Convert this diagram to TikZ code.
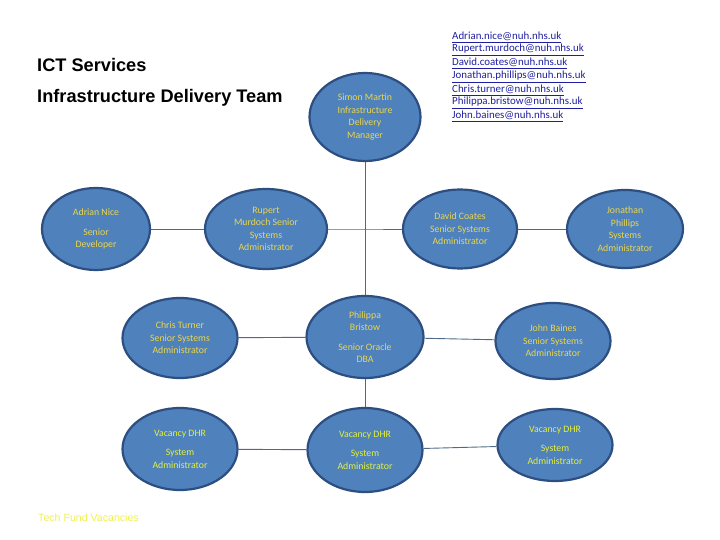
\documentclass[tikz,border=0pt]{standalone}
\usepackage{fontspec}
\setmainfont{Carlito}
\newfontfamily\arialf{Liberation Sans}
\usetikzlibrary{shapes.geometric}
\definecolor{fillblue}{RGB}{79,129,189}
\definecolor{edgeblue}{RGB}{44,78,128}
\definecolor{nametext}{RGB}{236,214,72}
\definecolor{vactext}{RGB}{228,240,60}
\definecolor{linkcol}{RGB}{30,30,160}
\definecolor{conncol}{RGB}{80,105,135}
\definecolor{techyellow}{RGB}{240,240,80}
\tikzset{
  person/.style={ellipse, draw=edgeblue, line width=2.2pt, fill=fillblue, inner sep=0pt,
    align=center, text=nametext, font=\fontsize{9.8}{12.5}\selectfont},
  vacancy/.style={person, text=vactext},
  conn/.style={draw=conncol, line width=0.9pt},
  title/.style={anchor=west, font=\arialf\bfseries\fontsize{18.2}{21}\selectfont, inner sep=0pt},
  email/.style={anchor=west, inner sep=0pt, text=linkcol, font=\fontsize{10.9}{12}\selectfont}
}
\begin{document}
\begin{tikzpicture}[x=1pt,y=-1pt]
\useasboundingbox (0,0) rectangle (720,540);
\node[title] (t1) at (37,65) {ICT Services};
\node[title] (t2) at (37,98) {Infrastructure Delivery Team};

\node[email] (e1) at (452,37) {\underline{Adrian.nice@nuh.nhs.uk}};
\node[email] (e2) at (452,50) {\underline{Rupert.murdoch@nuh.nhs.uk}};
\node[email] (e3) at (452,63) {\underline{David.coates@nuh.nhs.uk}};
\node[email] (e4) at (452,77) {\underline{Jonathan.phillips@nuh.nhs.uk}};
\node[email] (e5) at (452,90) {\underline{Chris.turner@nuh.nhs.uk}};
\node[email] (e6) at (452,103) {\underline{Philippa.bristow@nuh.nhs.uk}};
\node[email] (e7) at (452,116) {\underline{John.baines@nuh.nhs.uk}};

\node[person, minimum width=111, minimum height=88] (simon) at (365,117) {Simon Martin\\Infrastructure\\Delivery\\Manager};
\node[person, minimum width=108, minimum height=82] (adrian) at (96,229) {Adrian Nice\\[7pt]Senior\\Developer};
\node[person, minimum width=122, minimum height=80] (rupert) at (266,229) {Rupert\\Murdoch Senior\\Systems\\Administrator};
\node[person, minimum width=114, minimum height=79] (david) at (460,229) {David Coates\\Senior Systems\\Administrator};
\node[person, minimum width=116, minimum height=78] (jonathan) at (625,229) {Jonathan\\Phillips\\Systems\\Administrator};
\node[person, minimum width=115, minimum height=80] (chris) at (180,338) {Chris Turner\\Senior Systems\\Administrator};
\node[person, minimum width=117, minimum height=82] (philippa) at (365,337) {Philippa\\Bristow\\[7pt]Senior Oracle\\DBA};
\node[person, minimum width=115, minimum height=76] (john) at (553,341) {John Baines\\Senior Systems\\Administrator};
\node[vacancy, minimum width=115, minimum height=82] (vleft) at (180,449) {Vacancy DHR\\[7pt]System\\Administrator};
\node[vacancy, minimum width=115, minimum height=84] (vmid) at (365,450) {Vacancy DHR\\[7pt]System\\Administrator};
\node[vacancy, minimum width=115, minimum height=72] (vright) at (555,445) {Vacancy DHR\\[7pt]System\\Administrator};

\node[anchor=west, inner sep=0pt, text=techyellow, font=\arialf\fontsize{10.6}{12}\selectfont] (tech) at (38,518) {Tech Fund Vacancies};

\coordinate (junction) at (365,229);
\draw[conn] (simon) -- (philippa);
\draw[conn] (adrian) -- (rupert);
\draw[conn] (rupert) -- (junction) -- (david);
\draw[conn] (david) -- (jonathan);
\draw[conn] (chris) -- (philippa);
\draw[conn] (philippa) -- (john);
\draw[conn] (philippa) -- (vmid);
\draw[conn] (vleft) -- (vmid);
\draw[conn] (vmid) -- (vright);
\end{tikzpicture}
\end{document}
